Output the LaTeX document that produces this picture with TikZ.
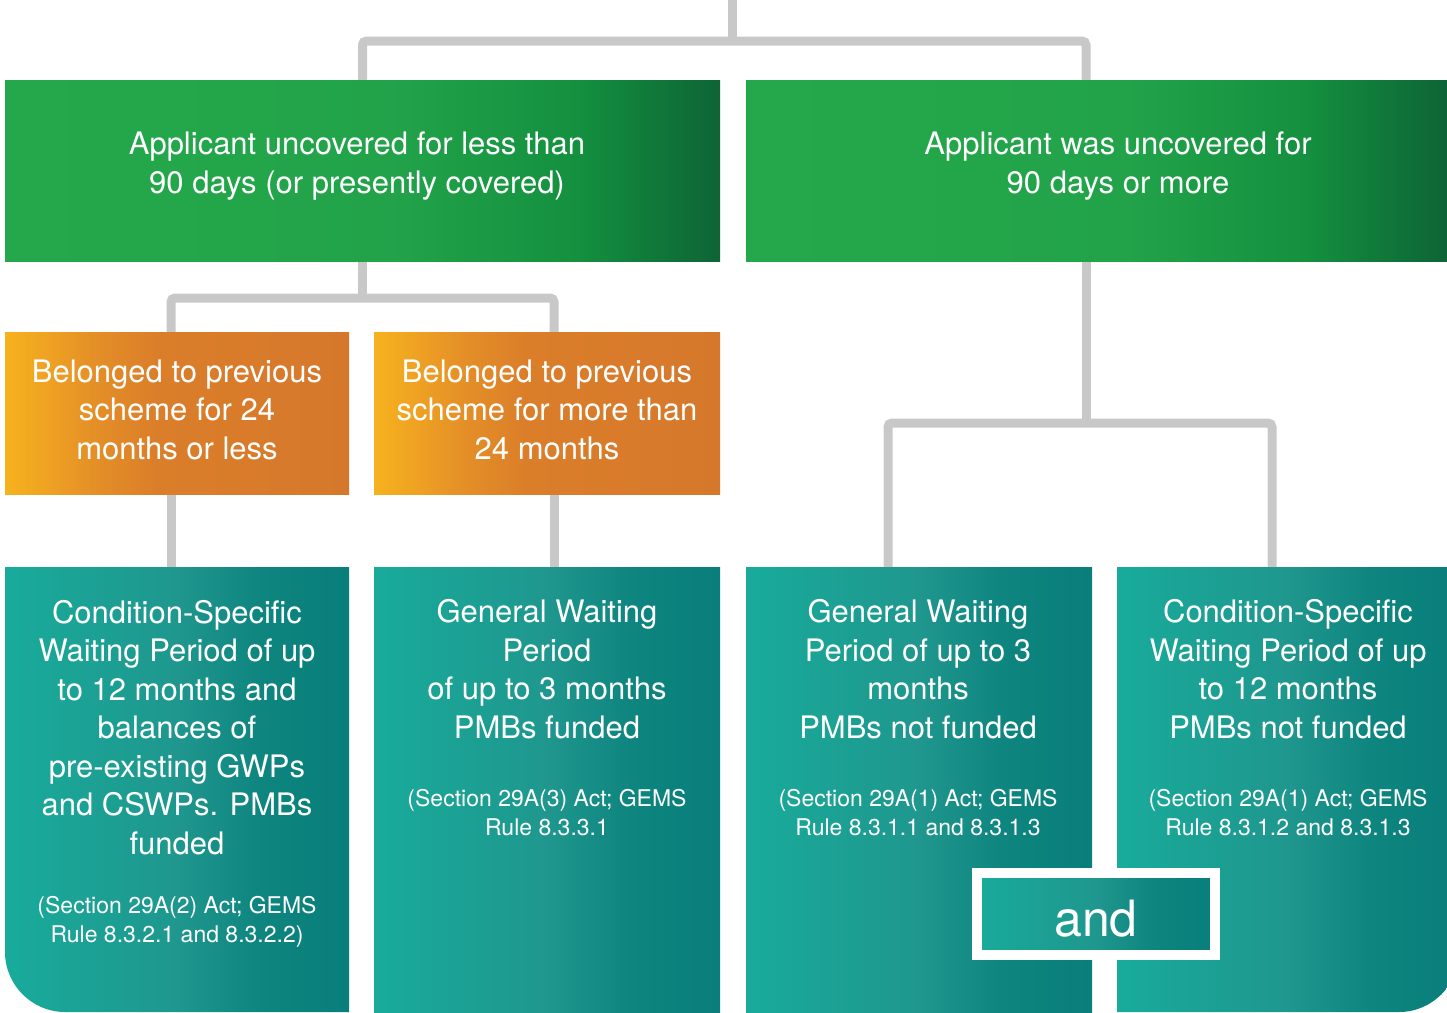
\documentclass[tikz,border=0pt]{standalone}
\usepackage{fontspec}
\setmainfont{TeX Gyre Heros}
\usetikzlibrary{calc}

\pgfdeclarelayer{bg}
\pgfsetlayers{bg,main}

\definecolor{linkgray}{HTML}{C8C8C8}
% green header boxes
\definecolor{gA}{HTML}{25A84B}
\definecolor{gB}{HTML}{22A34A}
\definecolor{gC}{HTML}{14903F}
\definecolor{gD}{HTML}{107A3A}
\definecolor{gE}{HTML}{0E6436}
% orange boxes
\definecolor{oA}{HTML}{F6B21E}
\definecolor{oM}{HTML}{EFA223}
\definecolor{oB}{HTML}{E48F27}
\definecolor{oC}{HTML}{DB7E2A}
\definecolor{oD}{HTML}{D6782B}
% teal boxes
\definecolor{tA}{HTML}{18AB9B}
\definecolor{tB}{HTML}{1F978E}
\definecolor{tC}{HTML}{0E857F}
\definecolor{tD}{HTML}{097E7B}

% the shaded path covers the 25bp..75bp band of each shading
\pgfdeclarehorizontalshading{greenfade}{100bp}{color(0bp)=(gA); color(25bp)=(gA); color(52bp)=(gB); color(65bp)=(gC); color(70bp)=(gD); color(75bp)=(gE); color(100bp)=(gE)}
\pgfdeclarehorizontalshading{orangefade}{100bp}{color(0bp)=(oA); color(25bp)=(oA); color(31bp)=(oM); color(38bp)=(oB); color(47bp)=(oC); color(75bp)=(oD); color(100bp)=(oD)}
\pgfdeclarehorizontalshading{tealfade}{100bp}{color(0bp)=(tA); color(25bp)=(tA); color(50bp)=(tB); color(62bp)=(tC); color(75bp)=(tD); color(100bp)=(tD)}

\begin{document}
\begin{tikzpicture}[x=1pt,y=-1pt,
  link/.style={draw=linkgray, line width=9pt, rounded corners=4pt},
  box/.style={anchor=north west, inner sep=0pt, outer sep=0pt, draw=none},
  greenbox/.style={box, shade, shading=greenfade},
  orangebox/.style={box, shade, shading=orangefade},
  tealbox/.style={box, shade, shading=tealfade},
  % text blocks are placed by the baseline of their last line
  bigtext/.style={text=white, align=center, anchor=base, font=\fontsize{31}{38.5}\selectfont},
  smalltext/.style={text=white, align=center, anchor=base, font=\fontsize{23}{28.5}\selectfont},
]
\useasboundingbox (0,0) rectangle (1447,1012);

% ---- boxes ----
\node[greenbox, minimum width=715pt, minimum height=181pt] (g1) at (5,80) {};
\node[greenbox, minimum width=701pt, minimum height=181pt] (g2) at (746,80) {};

\node[orangebox, minimum width=344pt, minimum height=162pt] (o1) at (5,332) {};
\node[orangebox, minimum width=346pt, minimum height=162pt] (o2) at (374,332) {};

\node[box, minimum width=344pt, minimum height=445pt] (t1) at (5,567) {};
\node[tealbox, minimum width=346pt, minimum height=445pt] (t2) at (374,567) {};
\node[tealbox, minimum width=346pt, minimum height=445pt] (t3) at (746,567) {};
\node[box, minimum width=342pt, minimum height=445pt] (t4) at (1117,567) {};

% outer boxes with one rounded bottom corner
\shade[shading=tealfade] (t1.north west) -- (t1.north east) -- (t1.south east)
  -- ([xshift=60pt]t1.south west)
  .. controls ([xshift=27pt]t1.south west) and ([yshift=27pt]t1.south west) ..
  ([yshift=60pt]t1.south west) -- cycle;
\shade[shading=tealfade] (t4.north west) -- (t4.north east)
  -- ([yshift=60pt]t4.south east)
  .. controls ([yshift=27pt]t4.south east) and ([xshift=-27pt]t4.south east) ..
  ([xshift=-60pt]t4.south east) -- (t4.south west) -- cycle;

% ---- connectors ----
\begin{pgfonlayer}{bg}
  \coordinate (root) at (732,0);
  \coordinate (hub0) at (732,41);
  \coordinate (g2in) at ($(g2.north)+(-10.5,0)$);
  \draw[link] (root) -- (hub0);
  \draw[link] (g1.north) |- (hub0) -| (g2in);

  \coordinate (hub1) at ($(g1.south)+(0,37)$);
  \coordinate (o1in) at ($(o1.north)+(-6,0)$);
  \coordinate (o2in) at ($(o2.north)+(7,0)$);
  \draw[link] (g1.south) -- (hub1);
  \draw[link] (o1in) |- (hub1) -| (o2in);
  \draw[link] ($(o1.south)+(-6,0)$) -- ($(t1.north)+(-6,0)$);
  \draw[link] ($(o2.south)+(7,0)$) -- ($(t2.north)+(7,0)$);

  \coordinate (g2out) at ($(g2.south)+(-10.5,0)$);
  \coordinate (hub2) at ($(g2out)+(0,162)$);
  \coordinate (t3in) at ($(t3.north)+(-31,0)$);
  \coordinate (t4in) at ($(t4.north)+(-16,0)$);
  \draw[link] (g2out) -- (hub2);
  \draw[link] (t3in) |- (hub2) -| (t4in);
\end{pgfonlayer}

% ---- texts ----
\node[bigtext] (g1txt) at (357,193) {Applicant uncovered for less than\\90 days (or presently covered)};
\node[bigtext] (g2txt) at (1118,193) {Applicant was uncovered for\\90 days or more};

\node[bigtext] (o1txt) at (177,459) {Belonged to previous\\scheme for 24\\months or less};
\node[bigtext] (o2txt) at (547,459) {Belonged to previous\\scheme for more than\\24 months};

\node[bigtext] (t1txt) at (177,854) {Condition-Specific\\Waiting Period of up\\to 12 months and\\balances of\\pre-existing GWPs\\and CSWPs. PMBs\\funded};
\node[smalltext] (t1ref) at (177,942) {(Section 29A(2) Act; GEMS\\Rule 8.3.2.1 and 8.3.2.2)};

\node[bigtext] (t2txt) at (547,738) {General Waiting\\Period\\of up to 3 months\\PMBs funded};
\node[smalltext] (t2ref) at (547,835) {(Section 29A(3) Act; GEMS\\Rule 8.3.3.1};

\node[bigtext] (t3txt) at (918,738) {General Waiting\\Period of up to 3\\months\\PMBs not funded};
\node[smalltext] (t3ref) at (918,835) {(Section 29A(1) Act; GEMS\\Rule 8.3.1.1 and 8.3.1.3};

\node[bigtext] (t4txt) at (1288,738) {Condition-Specific\\Waiting Period of up\\to 12 months\\PMBs not funded};
\node[smalltext] (t4ref) at (1288,835) {(Section 29A(1) Act; GEMS\\Rule 8.3.1.2 and 8.3.1.3};

% ---- joining badge ----
\node[draw=white, line width=10pt, shade, shading=tealfade, minimum width=238pt,
      minimum height=82pt, inner sep=0pt, text=white, text height=44pt, text depth=0pt,
      font=\fontsize{50}{60}\selectfont] (andbox) at (1096,914) {and};
\end{tikzpicture}
\end{document}
